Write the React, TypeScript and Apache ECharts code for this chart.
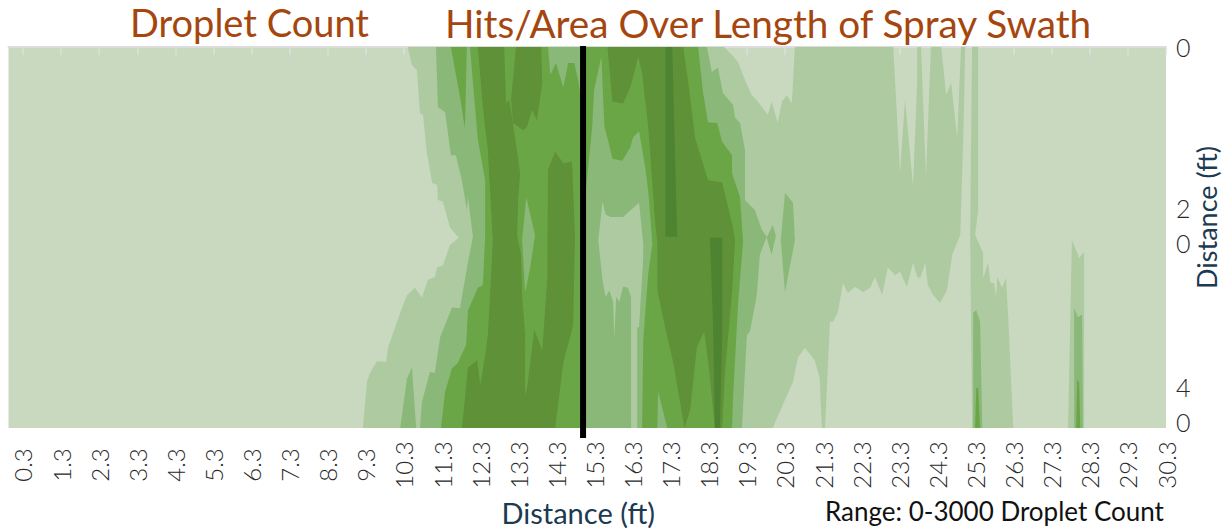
import React, { useEffect, useRef } from "react";
import * as echarts from "echarts";

const xTicks = [0.3,1.3,2.3,3.3,4.3,5.3,6.3,7.3,8.3,9.3,10.3,11.3,12.3,13.3,14.3,15.3,16.3,17.3,18.3,19.3,20.3,21.3,22.3,23.3,24.3,25.3,26.3,27.3,28.3,29.3,30.3];
const yTicks = [0, 20, 40];
const xMin = -0.08;
const xMax = 30.3;
const yMax = 42.57;
const spineX = 15;
const spine = [[spineX, -0.1], [spineX, 43.7]];

// contour outlines, as [distance along swath ft, distance ft]
const level1Bands = [
  [[10.40,0],[10.51,2.0],[10.64,2.6],[10.72,7.4],[10.80,7.6],[10.90,11.8],[11.04,15.2],[11.17,15.4],[11.19,17.1],[11.32,17.3],[11.51,20.2],[11.74,21.3],[11.51,22.1],[11.32,24.4],[11.17,24.6],[11.11,25.7],[10.93,26.0],[10.77,28.0],[10.59,26.9],[10.38,27.7],[10.20,29.7],[10.01,32.0],[9.88,33.6],[9.83,35.2],[9.59,35.1],[9.41,36.4],[9.33,37.4],[9.22,42.57],[19.98,42.57],[20.24,40],[20.51,37.4],[20.64,34.7],[20.82,33.6],[21.08,35.0],[21.21,37.0],[21.27,42.57],[21.35,42.57],[21.48,30.7],[21.56,30.7],[21.69,29.6],[21.82,26.4],[21.95,27.5],[22.14,26.8],[22.35,27.4],[22.53,26.9],[22.66,25.7],[22.85,27.7],[23.00,24.6],[23.19,25.5],[23.32,25.1],[23.50,26.8],[23.66,24.1],[23.77,25.7],[23.85,25.8],[23.98,24.1],[24.05,26.6],[24.19,27.7],[24.37,28.6],[24.55,27.2],[24.69,23.2],[24.90,21.0],[24.98,10.1],[25.03,0],[24.92,0],[24.82,10.1],[24.66,4.0],[24.53,5.4],[24.40,0],[24.13,0],[24.00,14.5],[23.87,0],[23.77,0],[23.77,4.0],[23.66,15.5],[23.45,5.9],[23.32,14.0],[23.14,0],[20.56,0],[20.48,6.3],[20.35,5.4],[20.22,6.1],[20.11,8.5],[19.95,6.1],[19.85,7.6],[19.59,6.1],[19.43,5.4],[19.25,3.7],[19.07,1.7],[18.91,0.9],[18.70,0]],
  [[25.21,0],[25.37,0],[25.37,18.2],[25.29,21],[25.50,23],[25.50,25.8],[25.63,24.1],[25.69,26.3],[25.79,26.4],[25.84,28],[25.87,25.7],[26,26.9],[26.1,25.8],[26.16,30.3],[26.29,42.57],[25.21,42.57],[25.16,21]],
  [[27.73,42.57],[27.83,21.6],[27.97,23.0],[28.02,23.6],[28.15,22.9],[28.15,42.57]],
];
const level2Bands = [
  [[11.14,0],[11.19,6.7],[11.38,7.3],[11.53,12.1],[11.66,12.1],[11.82,14.9],[11.95,18.2],[11.98,16.8],[12.11,21.2],[11.98,24],[11.77,29.2],[11.56,29.1],[11.25,32.4],[11.11,36.4],[10.98,36.3],[10.77,39.7],[10.72,42.57],[19.17,42.57],[19.30,32.2],[19.38,31.8],[19.56,27.7],[19.64,23.2],[19.82,21.2],[19.69,20.4],[19.51,18.2],[19.25,17.1],[19.25,11.5],[19.12,8.5],[18.99,7.9],[18.94,6.5],[18.67,5.1],[18.54,2.3],[18.38,2.8],[18.25,0]],
  [[10.20,42.57],[10.38,37],[10.51,35.8],[10.62,42.57]],
  [[20.19,21.6],[20.30,16.3],[20.51,17.4],[20.56,21.6],[20.30,27.4]],
  [[19.82,21.3],[19.98,19.9],[20.06,21.1],[19.95,23.2]],
  [[25.24,42.57],[25.24,29.7],[25.32,29.4],[25.42,30.7],[25.48,42.57]],
  [[27.89,42.57],[27.89,29.2],[27.99,30.2],[28.10,29.9],[28.12,42.57]],
];
const level3Bands = [
  [[12.03,0],[12.24,10.4],[12.43,14.9],[12.43,21.2],[12.37,26.6],[12.24,26.9],[11.98,29.4],[11.93,33.3],[11.71,35.3],[11.56,35.9],[11.38,38.5],[11.27,42.57],[18.91,42.57],[18.94,38.9],[19.07,28.5],[19.20,21.8],[19.12,16.8],[18.91,14.1],[18.91,12.1],[18.65,10.6],[18.52,8.5],[18.28,8.4],[18.15,5.1],[18.02,0]],
  [[11.53,0],[11.95,0],[11.90,9.1],[11.77,5.6]],
  [[25.29,42.57],[25.32,38.1],[25.37,38.1],[25.42,42.57]],
  [[27.94,42.57],[27.97,37.2],[28.02,37.4],[28.05,42.57]],
];
const level2Holes = [
  [[13.51,16.8],[13.74,21],[13.61,24.7],[13.48,27.4],[13.40,21.6]],
  [[14.08,0],[14.14,3.1],[14.29,1.8],[14.48,4.5],[14.61,1.8],[14.77,1.8],[14.87,3.7],[14.95,5.9],[14.95,0]],
  [[15.48,1.1],[15.56,8.9],[15.66,10.5],[15.77,12.5],[16.03,12.7],[16.24,11.2],[16.31,10.1],[16.47,9.4],[16.63,13.4],[16.71,16.1],[16.82,22],[16.71,25.3],[16.58,32.7],[16.55,42.57],[15.05,42.57],[15.05,17.1],[15.24,8.9],[15.29,4.8]],
  [[16.95,42.57],[16.97,38.5],[17.21,42.57]],
];
const level1Holes = [
  [[15.51,17.3],[15.59,18.7],[15.72,19],[16.05,19],[16.47,17.4],[16.58,22],[16.58,23.5],[16.47,31.3],[16.42,31.3],[16.42,42.57],[16.26,42.57],[16.26,28],[16.18,26.9],[16.05,26.8],[15.95,28.5],[15.87,27.9],[15.82,32.7],[15.79,28.5],[15.69,27.2],[15.59,27.9],[15.51,26],[15.40,21.6]],
];
const level4Bands = [
  [[12.24,0],[12.37,6.7],[12.50,11.5],[12.63,21.6],[12.56,27.7],[12.50,32.2],[12.43,34.4],[12.30,37.8],[12.22,35],[11.98,35.8],[11.82,42.57],[14.27,42.57],[14.48,35.3],[14.74,31.1],[14.79,21],[14.71,12.8],[14.48,13],[14.27,11.7],[14.08,13.7],[14.06,25.8],[13.93,33.9],[13.72,31.6],[13.53,38.1],[13.48,38.9],[13.48,32.2],[13.40,27.7],[13.37,23.2],[13.27,21],[13.30,16.8],[13.35,14.1],[13.16,8.5],[13.06,5.9],[12.98,6.3],[12.93,0]],
  [[13.24,0],[13.90,0],[13.93,4],[13.79,8.2],[13.66,7],[13.53,8.9],[13.43,9.3],[13.16,8.5],[13.11,5.9]],
  [[15.64,0],[15.77,6.1],[16.05,6.3],[16.24,4.5],[16.45,1.1],[16.55,3],[16.71,8.9],[16.89,19.4],[16.95,22],[16.95,27.2],[17.21,32.4],[17.37,35.3],[17.66,42.57],[17.81,40.6],[17.99,33.5],[18.18,31.8],[18.31,36.1],[18.46,42.57],[18.65,42.57],[18.73,36.1],[18.91,27.4],[18.99,21.6],[18.91,19.7],[18.65,15.1],[18.28,14.9],[17.94,10.1],[17.76,3.9],[17.63,0]],
];
const level5Bands = [
  [[17.16,0],[17.34,0],[17.47,21.2],[17.16,21.2]],
  [[18.33,21.3],[18.65,21.3],[18.65,32.7],[18.59,42.57],[18.46,42.57],[18.41,30.8]],
];

const colors = ["#c8d9bf", "#aecaa0", "#8ab878", "#6ba646", "#5f9138", "#4e8332"];

const layers: [number[][][], string][] = [
  [level1Bands, colors[1]],
  [level2Bands, colors[2]],
  [level3Bands, colors[3]],
  [level2Holes, colors[2]],
  [level1Holes, colors[1]],
  [level4Bands, colors[4]],
  [level5Bands, colors[5]],
];

const thin = "Lato";
const head = "Lato";
const navy = "#1c3a52";

function polygonSeries(polys: number[][][], color: string) {
  return {
    type: "custom",
    coordinateSystem: "cartesian2d",
    xAxisIndex: 0,
    yAxisIndex: 0,
    silent: true,
    clip: true,
    data: polys.map((p) => p[0]),
    renderItem: (params: any, api: any) => ({
      type: "polygon",
      shape: { points: polys[params.dataIndex].map((pt) => api.coord(pt)) },
      style: { fill: color },
    }),
  };
}

export default function App() {
  const ref = useRef<HTMLDivElement>(null);
  useEffect(() => {
    const chart = echarts.init(ref.current!, null, { renderer: "svg" });
    chart.setOption({
      animation: false,
      backgroundColor: "#ffffff",
      title: [
        { text: "Droplet Count", left: 130, top: 3, padding: 0, textStyle: { fontFamily: head, fontSize: 38, fontWeight: 400, color: "#a5460f" } },
        { text: "Hits/Area Over Length of Spray Swath", left: 445, top: 3, padding: 0, textStyle: { fontFamily: head, fontSize: 38.7, fontWeight: 400, color: "#a5460f" } },
        { text: "Range: 0-3000 Droplet Count", left: 825, top: 498, padding: 0, textStyle: { fontFamily: head, fontSize: 26, fontWeight: 400, color: "#111111" } },
      ],
      grid: { left: 8.5, right: 58, top: 47, bottom: 101, show: true, backgroundColor: colors[0], borderWidth: 0, containLabel: false, outerBoundsMode: "none" },
      xAxis: [
        {
          type: "value",
          min: xMin,
          max: xMax,
          position: "bottom",
          name: "Distance (ft)",
          nameLocation: "middle",
          nameGap: 70,
          nameTextStyle: { fontFamily: head, fontSize: 29, color: navy, padding: [0, 18, 0, 0] },
          axisLine: { show: false },
          splitLine: { show: false },
          axisTick: { show: true, customValues: xTicks, length: 8, lineStyle: { color: "#dddddd", width: 1.5 } },
          axisLabel: {
            customValues: xTicks,
            rotate: 90,
            align: "center",
            verticalAlign: "middle",
            margin: 37,
            fontFamily: thin,
            fontWeight: 300,
            fontSize: 24,
            color: "#2a2a2a",
            hideOverlap: false,
            formatter: (v: number) => v.toFixed(1),
          },
        },
        {
          type: "value",
          min: xMin,
          max: xMax,
          position: "top",
          axisLine: { show: true, lineStyle: { color: "#dcdcdc", width: 2 } },
          axisTick: { show: false },
          axisLabel: { show: false },
          splitLine: { show: false },
        },
      ],
      yAxis: {
        type: "value",
        inverse: true,
        min: 0,
        max: yMax,
        position: "right",
        name: "Distance (ft)",
        nameLocation: "middle",
        nameGap: 27,
        nameMoveOverlap: false,
        nameRotate: 90,
        nameTextStyle: { fontFamily: head, fontSize: 27, color: navy, padding: [0, 0, 0, 40] },
        axisLine: { show: false },
        axisTick: { show: false },
        splitLine: { show: false },
        axisLabel: {
          customValues: yTicks,
          margin: 10,
          align: "left",
          fontFamily: thin,
          fontWeight: 300,
          fontSize: 25,
          lineHeight: 35,
          color: "#2a2a2a",
          formatter: (v: number) => String(v).split("").join("\n"),
        },
      },
      series: [
        ...layers.map(([polys, color]) => polygonSeries(polys, color)),
        {
          type: "custom",
          coordinateSystem: "cartesian2d",
          silent: true,
          clip: false,
          z: 10,
          data: [spine[0]],
          renderItem: (_p: any, api: any) => {
            const a = api.coord(spine[0]);
            const b = api.coord(spine[1]);
            return {
              type: "line",
              shape: { x1: a[0], y1: a[1], x2: b[0], y2: b[1] },
              style: { stroke: "#000000", lineWidth: 6 },
            };
          },
        },
      ],
    });
    return () => chart.dispose();
  }, []);
  return <div ref={ref} style={{ position: "absolute", left: 0, top: 0, width: 1224, height: 529 }} />;
}
